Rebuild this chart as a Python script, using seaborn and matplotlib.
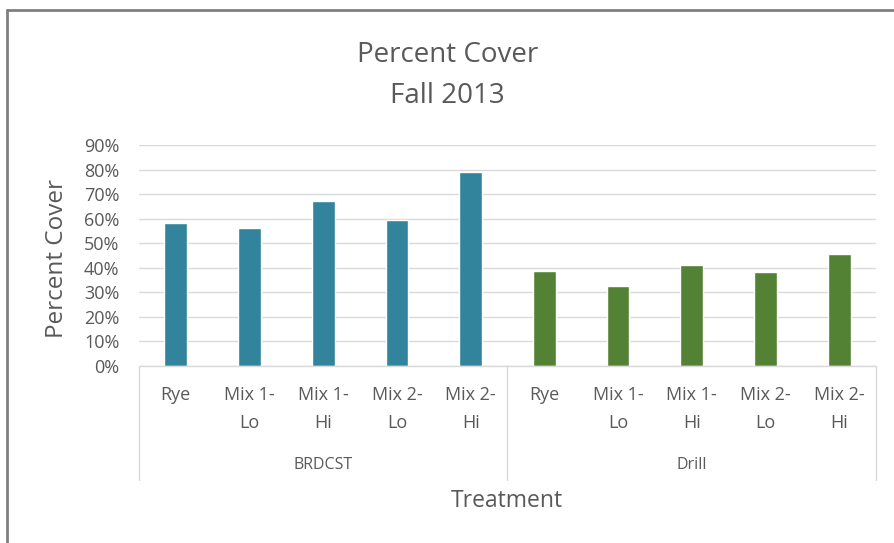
import pandas as pd
import seaborn as sns
import matplotlib.pyplot as plt
from matplotlib.lines import Line2D
from matplotlib.ticker import PercentFormatter

# data
methods = ["BRDCST", "BRDCST", "BRDCST", "BRDCST", "BRDCST",
           "Drill", "Drill", "Drill", "Drill", "Drill"]
treatments = ["Rye", "Mix 1-\nLo", "Mix 1-\nHi", "Mix 2-\nLo", "Mix 2-\nHi",
              "Rye", "Mix 1-\nLo", "Mix 1-\nHi", "Mix 2-\nLo", "Mix 2-\nHi"]
cover = [0.581, 0.562, 0.673, 0.593, 0.790,
         0.387, 0.327, 0.411, 0.381, 0.457]
group_names = ["BRDCST", "Drill"]
colors = {"BRDCST": "#31849B", "Drill": "#548235"}

df = pd.DataFrame({"method": methods, "treatment": treatments, "cover": cover})
df["key"] = df["method"] + "|" + df["treatment"]

sns.set_theme(style="white")
plt.rcParams["font.family"] = ["Open Sans", "DejaVu Sans"]
txt = "#595959"
grid = "#D9D9D9"

fig = plt.figure(figsize=(8.95, 5.43), dpi=100)
ax = fig.add_axes([139 / 895, 1 - 366 / 543, (876 - 139) / 895, (366 - 145) / 543])

sns.barplot(data=df, x="key", y="cover", hue="method", palette=colors,
            dodge=False, width=0.31, legend=False, ax=ax, saturation=1)

ax.set_ylim(0, 0.9)
ax.set_xlim(-0.5, len(df) - 0.5)
ax.set_yticks([i / 10 for i in range(10)])
ax.yaxis.set_major_formatter(PercentFormatter(1.0, decimals=0))
ax.tick_params(axis="y", labelsize=13, labelcolor=txt, length=0, pad=14)
ax.tick_params(axis="x", length=0)
ax.set_xticklabels([])
ax.set_xlabel("")
ax.set_ylabel("")
ax.grid(axis="y", color=grid, linewidth=1)
ax.set_axisbelow(True)
for s in ax.spines.values():
    s.set_visible(False)

# multi-level category axis
tr = ax.get_xaxis_transform()
ax.add_line(Line2D([-0.5, len(df) - 0.5], [0, 0], transform=tr, color=grid,
                   lw=1, clip_on=False))
for xpos in [-0.5, 4.5, 9.5]:
    ax.add_line(Line2D([xpos, xpos], [0, -0.516], transform=tr, color=grid,
                       lw=1, clip_on=False))
for i, t in enumerate(treatments):
    ax.text(i, -0.09, t, transform=tr, ha="center", va="top", fontsize=13,
            color=txt, multialignment="center", linespacing=1.72)
for j, g in enumerate(group_names):
    ax.text(2 + 5 * j, -0.448, g, transform=tr, ha="center", va="center",
            fontsize=11.5, color=txt)

fig.text(0.5, 1 - 55 / 543, "Percent Cover", ha="center", va="center",
         fontsize=20, color=txt)
fig.text(0.5, 1 - 96 / 543, "Fall 2013", ha="center", va="center",
         fontsize=20, color=txt)
fig.text(57 / 895, 1 - 258 / 543, "Percent Cover", rotation=90, ha="center",
         va="center", fontsize=17.5, color=txt)
fig.text(507 / 895, 1 - 501 / 543, "Treatment", ha="center", va="center",
         fontsize=16.5, color=txt)

# chart frame (top and left edges visible)
fig.add_artist(Line2D([7 / 895, 1], [1 - 10 / 543, 1 - 10 / 543],
                      transform=fig.transFigure, color="#7F7F7F", lw=2))
fig.add_artist(Line2D([7 / 895, 7 / 895], [0, 1 - 10 / 543],
                      transform=fig.transFigure, color="#7F7F7F", lw=2))

fig.savefig("out.png", dpi=100)
